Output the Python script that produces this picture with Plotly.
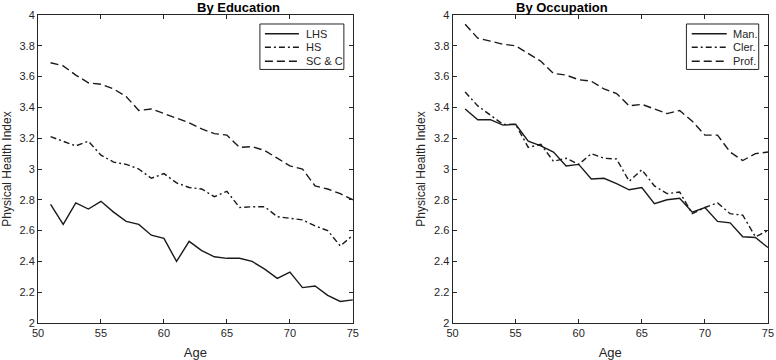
import plotly.graph_objects as go

# ages on the x axis
age = list(range(51, 76))

# by education
lhs = [2.77, 2.64, 2.78, 2.74, 2.79, 2.72, 2.66, 2.64, 2.57, 2.55, 2.40, 2.53, 2.47,
       2.43, 2.42, 2.42, 2.40, 2.35, 2.29, 2.33, 2.23, 2.24, 2.18, 2.14, 2.15]
hs = [3.21, 3.18, 3.15, 3.18, 3.09, 3.045, 3.03, 3.00, 2.94, 2.97, 2.91, 2.88, 2.87,
      2.82, 2.855, 2.75, 2.755, 2.755, 2.69, 2.68, 2.67, 2.63, 2.60, 2.50, 2.57]
scc = [3.69, 3.67, 3.61, 3.56, 3.55, 3.52, 3.47, 3.38, 3.39, 3.36, 3.33, 3.30, 3.26,
       3.23, 3.22, 3.14, 3.145, 3.12, 3.07, 3.02, 3.00, 2.89, 2.87, 2.84, 2.80]

# by occupation
man = [3.39, 3.32, 3.32, 3.285, 3.29, 3.18, 3.15, 3.11, 3.02, 3.03, 2.935, 2.94, 2.905,
       2.865, 2.88, 2.775, 2.80, 2.81, 2.72, 2.75, 2.66, 2.65, 2.56, 2.555, 2.49]
cler = [3.50, 3.41, 3.35, 3.29, 3.29, 3.14, 3.16, 3.05, 3.07, 3.03, 3.10, 3.07, 3.065,
        2.92, 2.995, 2.89, 2.84, 2.85, 2.71, 2.75, 2.78, 2.71, 2.70, 2.56, 2.60]
prof = [3.94, 3.85, 3.83, 3.81, 3.80, 3.75, 3.70, 3.62, 3.61, 3.58, 3.57, 3.52, 3.49,
        3.41, 3.42, 3.39, 3.36, 3.38, 3.31, 3.22, 3.22, 3.11, 3.055, 3.10, 3.11]

x_ticks = [50, 55, 60, 65, 70, 75]
y_ticks = [2, 2.2, 2.4, 2.6, 2.8, 3, 3.2, 3.4, 3.6, 3.8, 4]

SOLID = "solid"
DASHDOT = "6px,3px,2px,3px"
DASH = "8px,4px"
INK = "#1a1a1a"
AXC = "#262626"
FONT = "Liberation Sans, Arial, sans-serif"

# pixel layout of the two boxes (page coords)
L, R, T, B = 38, 7.7, 15, 36.7
W = 776 - L - R
H = 360 - T - B
x_dom1 = [0, (353 - L) / W]
x_dom2 = [(452.7 - L) / W, 1]

def px(x):
    return (x - L) / W

def py(y):
    return 1 - (y - T) / H

fig = go.Figure()

def add(xaxis, yaxis, y, name, dash):
    fig.add_trace(go.Scatter(x=age, y=y, mode="lines", name=name,
                             line=dict(color=INK, width=1.4, dash=dash),
                             xaxis=xaxis, yaxis=yaxis, showlegend=False))

add("x", "y", lhs, "LHS", SOLID)
add("x", "y", hs, "HS", DASHDOT)
add("x", "y", scc, "SC & C", DASH)
add("x2", "y2", man, "Man.", SOLID)
add("x2", "y2", cler, "Cler.", DASHDOT)
add("x2", "y2", prof, "Prof.", DASH)

# matlab-style legend boxes drawn by hand
shapes = []
annotations = []
legends = [
    (260, 344, 265, 299, 304, [("LHS", SOLID), ("HS", DASHDOT), ("SC & C", DASH)]),
    (686.7, 759, 692, 727, 731, [("Man.", SOLID), ("Cler.", DASHDOT), ("Prof.", DASH)]),
]
rows = [33.7, 47.3, 61.3]
for x0, x1, s0, s1, tx, items in legends:
    shapes.append(dict(type="rect", xref="paper", yref="paper",
                       x0=px(x0), x1=px(x1), y0=py(24), y1=py(69.5),
                       line=dict(color=AXC, width=1), fillcolor="white", layer="above"))
    for (label, dash), ry in zip(items, rows):
        shapes.append(dict(type="line", xref="paper", yref="paper",
                           x0=px(s0), x1=px(s1), y0=py(ry), y1=py(ry),
                           line=dict(color=INK, width=1.4, dash=dash), layer="above"))
        annotations.append(dict(text=label, x=px(tx), y=py(ry), xref="paper", yref="paper",
                                xanchor="left", yanchor="middle", showarrow=False,
                                font=dict(size=11, family=FONT, color=AXC)))

annotations += [
    dict(text="<b>By Education</b>", x=sum(x_dom1) / 2, y=1, yshift=8,
         xref="paper", yref="paper", showarrow=False, yanchor="middle",
         font=dict(size=13, family=FONT, color="black")),
    dict(text="<b>By Occupation</b>", x=sum(x_dom2) / 2, y=1, yshift=8,
         xref="paper", yref="paper", showarrow=False, yanchor="middle",
         font=dict(size=13, family=FONT, color="black")),
]

ax_common = dict(showline=True, linecolor=AXC, linewidth=1, mirror="ticks",
                 ticks="inside", ticklen=4, tickcolor=AXC, showgrid=False,
                 zeroline=False, automargin=False,
                 tickfont=dict(size=11, color=AXC, family=FONT))

xa = dict(ax_common, range=[50, 75], tickvals=x_ticks,
          title=dict(text="Age", font=dict(size=13, family=FONT, color=AXC), standoff=9))
ya = dict(ax_common, range=[2, 4], tickvals=y_ticks, ticktext=[f"{v:g}" for v in y_ticks],
          title=dict(text="Physical Health Index", font=dict(size=12, family=FONT, color=AXC), standoff=5))

fig.update_layout(
    width=776, height=360,
    margin=dict(l=L, r=R, t=T, b=B),
    paper_bgcolor="white", plot_bgcolor="white",
    font=dict(family=FONT, color=AXC),
    xaxis=dict(xa, domain=x_dom1, anchor="y"),
    yaxis=dict(ya, domain=[0, 1], anchor="x"),
    xaxis2=dict(xa, domain=x_dom2, anchor="y2"),
    yaxis2=dict(ya, domain=[0, 1], anchor="x2"),
    shapes=shapes,
    annotations=annotations,
    showlegend=False,
)

# drop the page's default body margin so the figure sits at the window corner
fig.write_html("out.html", config={"displayModeBar": False},
               post_script="document.body.style.margin='0';")
